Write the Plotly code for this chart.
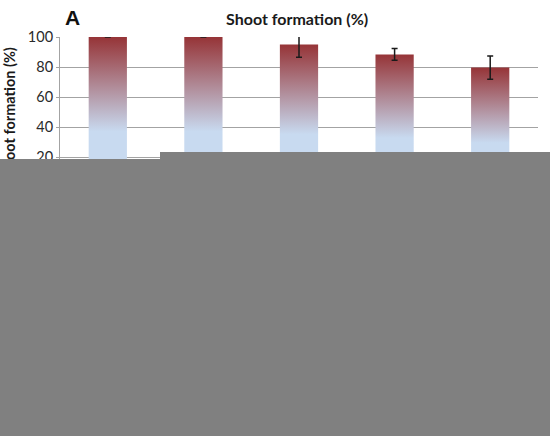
import plotly.graph_objects as go

treatments = [0, 1, 2, 3, 4]
shoot_formation = [100, 100, 95, 88.4, 79.6]
std_err = [0, 0, 8.5, 3.9, 7.7]
y_ticks = [0, 20, 40, 60, 80, 100]

W, H = 550, 436
ML, MR, MT, MB = 60, 12, 37, 249
PW, PH = W - ML - MR, H - MT - MB

def px_x(p):
    return (p - ML) / PW

def px_y(p):
    return (H - MB - p) / PH

fig = go.Figure()

bar_w = 0.4
for i, v in zip(treatments, shoot_formation):
    fig.add_trace(go.Scatter(
        x=[i - bar_w / 2, i - bar_w / 2, i + bar_w / 2, i + bar_w / 2, i - bar_w / 2],
        y=[0, v, v, 0, 0],
        mode="lines", line=dict(width=0),
        fill="toself",
        fillgradient=dict(
            type="vertical",
            colorscale=[[0, "rgb(200,218,240)"], [0.37, "rgb(200,218,240)"],
                        [1, "rgb(150,52,55)"]],
        ),
        hoverinfo="skip", showlegend=False,
    ))

# error bars
fig.add_trace(go.Scatter(
    x=treatments, y=shoot_formation, mode="markers",
    marker=dict(size=1, opacity=0),
    error_y=dict(type="data", array=std_err, color="#1a1a1a", thickness=1.5, width=3),
    cliponaxis=True, showlegend=False,
))

axis_font = dict(family="Lato, Open Sans, sans-serif", size=14.5, color="#2a2a2a")

fig.update_layout(
    width=W, height=H,
    margin=dict(l=ML, r=MR, t=MT, b=MB),
    paper_bgcolor="white", plot_bgcolor="white",
    showlegend=False,
    xaxis=dict(range=[-0.5, 4.5], showgrid=False, showticklabels=False,
               showline=True, linecolor="#a0a0a0", zeroline=False),
    yaxis=dict(range=[0, 100], tickvals=y_ticks, showgrid=True, gridcolor="#a3a3a3",
               gridwidth=1, showline=True, linecolor="#a3a3a3", ticks="outside",
               ticklen=3, tickcolor="#a3a3a3", tickfont=axis_font, zeroline=False),
    annotations=[
        dict(text="<b>Shoot formation (%)</b>", xref="paper", yref="paper",
             x=px_x(297), y=px_y(19), showarrow=False, xanchor="center", yanchor="middle",
             font=dict(family="Lato, Open Sans, sans-serif", size=16, color="#1a1a1a")),
        dict(text="<b>A</b>", xref="paper", yref="paper",
             x=px_x(72), y=px_y(17), showarrow=False, xanchor="center", yanchor="middle",
             font=dict(family="Liberation Sans, Arial, sans-serif", size=21, color="#111111")),
        dict(text="<b>Shoot formation (%)</b>", xref="paper", yref="paper",
             x=px_x(9), y=px_y(112), showarrow=False, xanchor="center", yanchor="middle",
             textangle=-90,
             font=dict(family="Lato, Open Sans, sans-serif", size=14.5, color="#1a1a1a")),
        # grey blocks that cover the lower part of the picture
        dict(text=" ", xref="paper", yref="paper", x=px_x(0), y=px_y(159),
             xanchor="left", yanchor="top", width=550, height=277, showarrow=False,
             bgcolor="#808080", borderpad=0, borderwidth=0),
        dict(text=" ", xref="paper", yref="paper", x=px_x(160), y=px_y(152),
             xanchor="left", yanchor="top", width=390, height=284, showarrow=False,
             bgcolor="#808080", borderpad=0, borderwidth=0),
    ],
)

fig.write_html("out.html", config={"displayModeBar": False},
               post_script="document.body.style.margin='0';")
